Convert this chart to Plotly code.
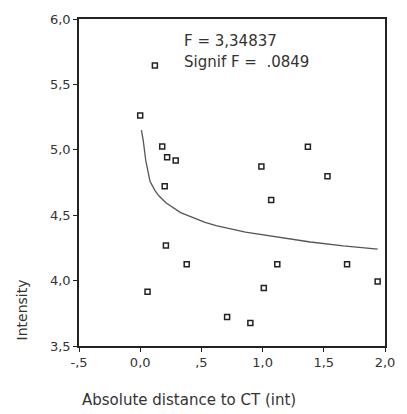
import plotly.graph_objects as go

# Observed values
distance = [0.00, 0.12, 0.18, 0.22, 0.29, 0.20, 0.21, 0.38, 0.06, 0.71,
            0.90, 1.01, 1.37, 0.99, 1.53, 1.07, 1.12, 1.69, 1.94]
intensity = [5.262, 5.645, 5.026, 4.943, 4.918, 4.721, 4.268, 4.125, 3.915, 3.721,
             3.676, 3.943, 5.023, 4.872, 4.797, 4.616, 4.125, 4.125, 3.993]

# Fitted curve
fit_x = [0.010, 0.025, 0.045, 0.065, 0.080, 0.120, 0.150, 0.210, 0.250, 0.330,
         0.530, 0.620, 0.860, 1.130, 1.390, 1.660, 1.940]
fit_y = [5.15, 5.07, 4.92, 4.81, 4.76, 4.69, 4.65, 4.595, 4.57, 4.52,
         4.445, 4.42, 4.37, 4.33, 4.295, 4.265, 4.24]

x_ticks = [-0.5, 0.0, 0.5, 1.0, 1.5, 2.0]
x_tick_text = ["-,5", "0,0", ",5", "1,0", "1,5", "2,0"]
y_ticks = [3.5, 4.0, 4.5, 5.0, 5.5, 6.0]
y_tick_text = ["3,5", "4,0", "4,5", "5,0", "5,5", "6,0"]

font = "DejaVu Sans, Liberation Sans, sans-serif"
ink = "#333333"

fig = go.Figure()
fig.add_trace(go.Scatter(
    x=fit_x, y=fit_y, mode="lines",
    line=dict(color="#555555", width=1.3),
    showlegend=False, hoverinfo="skip"))
fig.add_trace(go.Scatter(
    x=distance, y=intensity, mode="markers",
    marker=dict(symbol="square-open", size=5, color="#222222",
                line=dict(width=1.5, color="#222222")),
    showlegend=False))

axis_common = dict(
    showgrid=False, zeroline=False, showline=True, linecolor="#222222",
    linewidth=1.5, mirror=True, ticks="outside", ticklen=4, tickwidth=1,
    tickcolor="#222222", tickfont=dict(family=font, size=13, color=ink))

fig.update_xaxes(range=[-0.5, 2.0], tickvals=x_ticks, ticktext=x_tick_text,
                 **axis_common)
fig.update_yaxes(range=[3.5, 6.0], tickvals=y_ticks, ticktext=y_tick_text,
                 **axis_common)

annotations = [
    dict(text="F = 3,34837", x=0.335, y=0.934, xanchor="left", yanchor="middle"),
    dict(text="Signif F =  .0849", x=0.335, y=0.868, xanchor="left", yanchor="middle"),
]
for a in annotations:
    fig.add_annotation(xref="paper", yref="paper", showarrow=False,
                       font=dict(family=font, size=15, color=ink), **a)

fig.add_annotation(text="Absolute distance to CT (int)", xref="paper", yref="paper",
                   x=0.36, y=-0.165, xanchor="center", yanchor="middle",
                   showarrow=False, font=dict(family=font, size=15, color=ink))
fig.add_annotation(text="Intensity", xref="paper", yref="paper",
                   x=-0.185, y=0.11, xanchor="center", yanchor="middle",
                   textangle=-90, showarrow=False,
                   font=dict(family=font, size=14, color=ink))

fig.update_layout(
    width=407, height=414,
    margin=dict(l=79, r=14, t=15, b=68),
    paper_bgcolor="white", plot_bgcolor="white")

fig.write_html("out.html")
